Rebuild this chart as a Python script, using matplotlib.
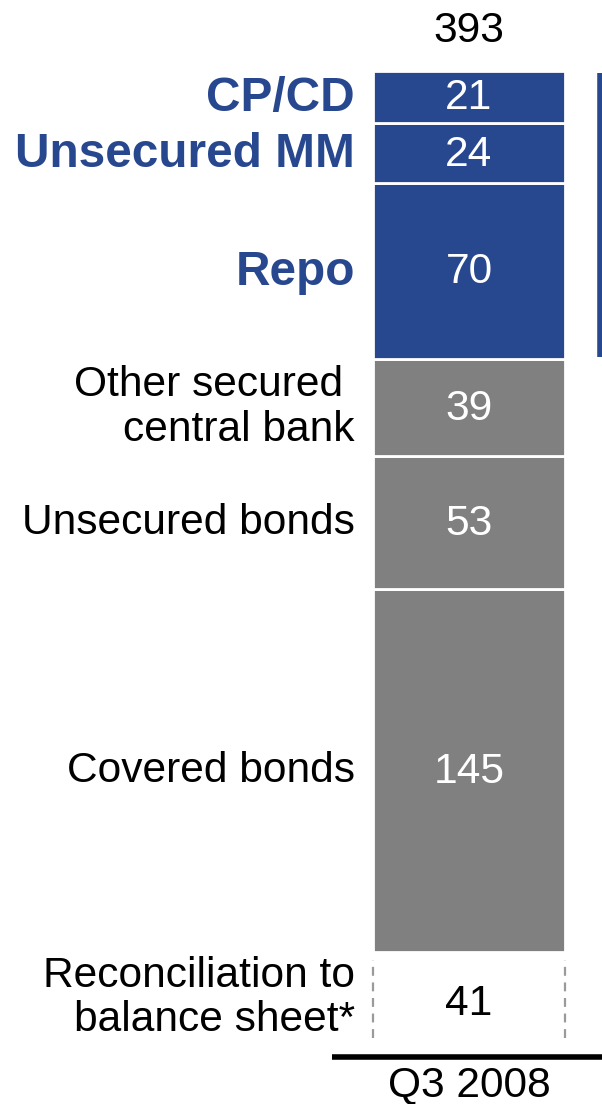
import matplotlib
matplotlib.use("Agg")
import matplotlib.pyplot as plt

plt.rcParams['font.family'] = ['Liberation Sans', 'DejaVu Sans']

# Data (bottom to top)
categories = ["Reconciliation to\nbalance sheet*", "Covered bonds", "Unsecured bonds",
              "Other secured \ncentral bank", "Repo", "Unsecured MM", "CP/CD"]
values = [41, 145, 53, 39, 70, 24, 21]
kinds = ["recon", "grey", "grey", "grey", "blue", "blue", "blue"]
period_label = "Q3 2008"

BLUE = "#27478F"
GREY = "#808080"
FS = 30.6
FS_B = 34.4

fig = plt.figure(figsize=(6.02, 11.04), dpi=100)
ax = fig.add_axes([0, 0, 1, 1])
ax.set_xlim(-2.443, 0.693)
ax.set_ylim(-19.6, 421.2)
ax.axis("off")

total = sum(values)
bottom = 0
blue_lo, blue_hi = None, None
for cat, v, k in zip(categories, values, kinds):
    if k == "recon":
        ax.bar(0, v, bottom=bottom, width=1.0, color="white", edgecolor="none")
        for xe in (-0.5, 0.5):
            ax.vlines(xe, bottom + 6.8, bottom + v - 3.0, colors="#9a9a9a",
                      linestyles=(0, (4, 3)), linewidth=1.6)
        ax.text(0, bottom + v / 2, str(v), ha="center", va="center",
                fontsize=FS, color="black")
        ax.text(-0.594, bottom + v / 2 + 2.3, cat, ha="right", va="center",
                fontsize=FS, color="black", linespacing=1.13)
    else:
        col = BLUE if k == "blue" else GREY
        ax.bar(0, v, bottom=bottom, width=1.0, color=col, edgecolor="white",
               linewidth=2)
        ax.text(0, bottom + v / 2 - 0.5, str(v), ha="center", va="center",
                fontsize=FS, color="white")
        if k == "blue":
            ax.text(-0.594, bottom + v / 2 - 0.5, cat, ha="right", va="center",
                    fontsize=FS_B, color=BLUE, fontweight="bold")
            if blue_lo is None:
                blue_lo = bottom
            blue_hi = bottom + v
        else:
            ax.text(-0.594, bottom + v / 2, cat, ha="right", va="center",
                    fontsize=FS, color="black", linespacing=1.13)
    bottom += v

# total label
ax.text(0, total + 16, str(total), ha="center", va="center", fontsize=FS,
        color="black")

# right bracket for blue segments (cut off at edge)
ax.vlines(0.68, blue_lo + 0.8, blue_hi - 0.8, colors=BLUE, linewidth=4)

# baseline
ax.hlines(-1.0, -0.714, 0.693, colors="black", linewidth=4)
ax.text(0, -12.2, period_label, ha="center", va="center", fontsize=FS,
        color="black")

fig.savefig("out.png", dpi=100)
